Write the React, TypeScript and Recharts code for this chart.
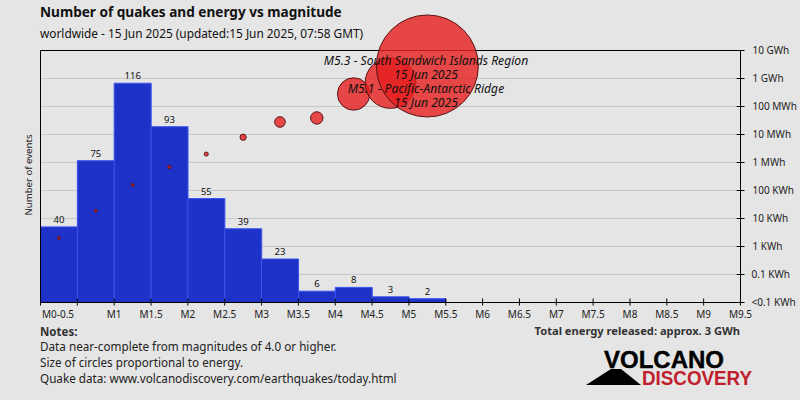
import React from 'react';
import {
  ComposedChart,
  Bar,
  Scatter,
  XAxis,
  YAxis,
  ZAxis,
  CartesianGrid,
  LabelList,
  ReferenceLine,
} from 'recharts';

const binCentres = [0.25, 0.75, 1.25, 1.75, 2.25, 2.75, 3.25, 3.75, 4.25, 4.75, 5.25];
const eventCounts = [40, 75, 116, 93, 55, 39, 23, 6, 8, 3, 2];
// energy released per bin, kWh
const energyKwh = [2, 19, 158, 690, 2000, 8000, 28000, 39000, 280000, 690000, 2800000];

const magnitudeTicks = [0, 0.5, 1, 1.5, 2, 2.5, 3, 3.5, 4, 4.5, 5, 5.5, 6, 6.5, 7, 7.5, 8, 8.5, 9, 9.5];
const magnitudeLabels = ['M0-0.5', '', 'M1', 'M1.5', 'M2', 'M2.5', 'M3', 'M3.5', 'M4', 'M4.5', 'M5', 'M5.5', 'M6', 'M6.5', 'M7', 'M7.5', 'M8', 'M8.5', 'M9', 'M9.5'];

const energyTicks = [0.01, 0.1, 1, 10, 100, 1000, 10000, 100000, 1000000, 10000000];
const energyLabels = ['<0.1 KWh', '0.1 KWh', '1 KWh', '10 KWh', '100 KWh', '1 MWh', '10 MWh', '100 MWh', '1 GWh', '10 GWh'];

const notes = [
  'Data near-complete from magnitudes of 4.0 or higher.',
  'Size of circles proportional to energy.',
  'Quake data: www.volcanodiscovery.com/earthquakes/today.html',
];
const quakeNotes = [
  'M5.3 - South Sandwich Islands Region',
  '15 Jun 2025',
  'M5.1 - Pacific-Antarctic Ridge',
  '15 Jun 2025',
];

const FONT = '"Noto Sans", sans-serif';

const countRows = binCentres.map((bin, i) => ({ bin, count: eventCounts[i] }));
const energyRows = binCentres.map((bin, i) => ({ bin, energy: energyKwh[i] }));

const MagnitudeTick = ({ x, y, index }: any) => (
  <g>
    <line x1={x} x2={x} y1={y - 4} y2={y + 3} stroke="#000" />
    <text x={index === 0 ? x + 17.5 : x} y={y + 15} textAnchor="middle" fontSize={10} fontFamily={FONT} fill="#222">
      {magnitudeLabels[index]}
    </text>
  </g>
);

const EnergyTick = ({ x, y, index }: any) => (
  <g>
    <line x1={x - 4} x2={x + 4} y1={y} y2={y} stroke="#000" />
    <text x={x + (index < 2 ? 11 : 12)} y={y + 3} fontSize={10} fontFamily={FONT} fill="#222">
      {energyLabels[index]}
    </text>
  </g>
);

export default function App() {
  return (
    <div style={{ position: 'absolute', left: 0, top: 0, width: 800, height: 400, background: '#e5e5e5' }}>
      <ComposedChart
        width={800}
        height={400}
        data={countRows}
        margin={{ top: 50.5, right: 0, bottom: 67.5, left: 0 }}
        barCategoryGap={0}
      >
        <CartesianGrid horizontal vertical={false} yAxisId="energy" stroke="#c8c8c8" />
        <XAxis
          type="number"
          dataKey="bin"
          domain={[0, 9.5]}
          ticks={magnitudeTicks}
          interval={0}
          height={30}
          tick={<MagnitudeTick />}
          tickLine={false}
          tickSize={0}
          tickMargin={0}
          axisLine={{ stroke: '#000' }}
        />
        <YAxis
          yAxisId="count"
          type="number"
          dataKey="count"
          width={40.5}
          domain={[0, 133.3]}
          tick={false}
          tickLine={false}
          axisLine={{ stroke: '#000' }}
        />
        <YAxis
          yAxisId="energy"
          orientation="right"
          type="number"
          dataKey="energy"
          scale="log"
          width={59.5}
          domain={[0.01, 10000000]}
          ticks={energyTicks}
          interval={0}
          tick={<EnergyTick />}
          tickLine={false}
          tickSize={0}
          tickMargin={0}
          axisLine={{ stroke: '#000' }}
        />
        <ZAxis dataKey="energy" type="number" domain={[0, 2800000]} range={[7, 8171]} />
        <ReferenceLine yAxisId="energy" y={10000000} stroke="#000" />
        <Bar yAxisId="count" dataKey="count" fill="#1f32c8" stroke="#3a55ee" isAnimationActive={false}>
          <LabelList dataKey="count" position="top" fontSize={9.5} fontFamily={FONT} fill="#111" offset={4} />
        </Bar>
        <Scatter
          yAxisId="energy"
          data={energyRows}
          fill="#e61e1e"
          fillOpacity={0.8}
          stroke="#5a1414"
          isAnimationActive={false}
        />
      </ComposedChart>
      {/* captions sit over the bubbles, so they get their own layer */}
      <svg width={800} height={400} style={{ position: 'absolute', left: 0, top: 0, pointerEvents: 'none' }}>
        <text x={40} y={17} fontSize={13.6} fontWeight="bold" fontFamily={FONT} fill="#111">
          Number of quakes and energy vs magnitude
        </text>
        <text x={40} y={38} fontSize={11.85} fontFamily={FONT} fill="#111">
          worldwide - 15 Jun 2025 (updated:15 Jun 2025, 07:58 GMT)
        </text>
        <text transform="translate(32,175) rotate(-90)" textAnchor="middle" fontSize={9.6} fontFamily={FONT} fill="#222">
          Number of events
        </text>
        {quakeNotes.map((line, i) => (
          <text key={i} x={426} y={65 + i * 14} textAnchor="middle" fontSize={12.15} fontStyle="italic" fontFamily={FONT} fill="#111">
            {line}
          </text>
        ))}
        <text x={40} y={336} fontSize={11.5} fontWeight="bold" fontFamily={FONT} fill="#333">
          Notes:
        </text>
        {notes.map((line, i) => (
          <text key={i} x={40} y={351 + i * 16} fontSize={11.7} fontFamily={FONT} fill="#222">
            {line}
          </text>
        ))}
        <text x={740} y={335} textAnchor="end" fontSize={11.15} fontWeight="bold" fontFamily={FONT} fill="#333">
          Total energy released: approx. 3 GWh
        </text>
        <polygon points="586,385 611,369 621,369 641,385" fill="#000" />
        <text x={604} y={368} fontSize={23} fontWeight="bold" fontFamily="Liberation Sans" fill="#000" stroke="#000" strokeWidth={0.4} textLength={120} lengthAdjust="spacingAndGlyphs">
          VOLCANO
        </text>
        <text x={642} y={385} fontSize={20.5} fontWeight="bold" fontFamily="Liberation Sans" fill="#c0202c" textLength={110} lengthAdjust="spacingAndGlyphs">
          DISCOVERY
        </text>
      </svg>
    </div>
  );
}
